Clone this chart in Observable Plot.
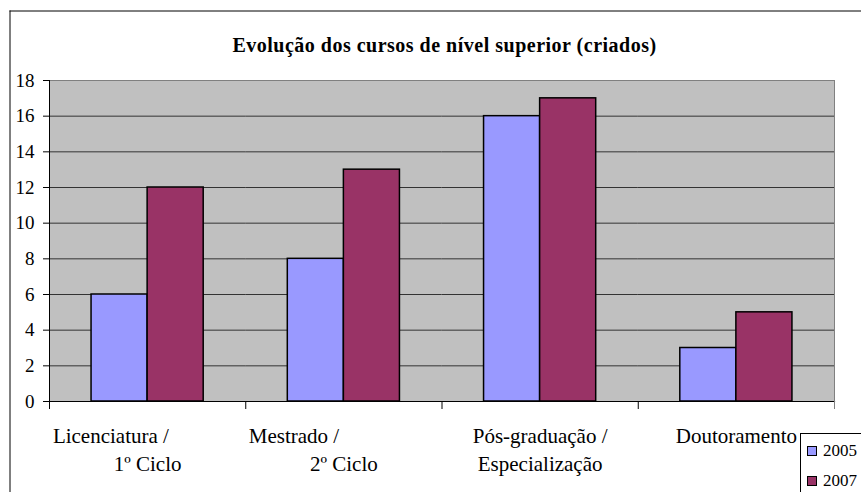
<!DOCTYPE html>
<html>
<head>
<meta charset="utf-8">
<script src="https://cdn.jsdelivr.net/npm/d3@7"></script>
<script src="https://cdn.jsdelivr.net/npm/@observablehq/plot@0.6"></script>
<style>
  html, body { margin: 0; padding: 0; background: #fff; overflow: hidden; width: 861px; height: 492px; }
  #wrap { position: relative; width: 861px; height: 492px; overflow: hidden; }
  #chart { position: absolute; left: 0; top: 0; width: 861px; height: 492px; }
  #chart svg { max-width: none !important; display: block; }
  #chart svg, #chart svg text { font-family: "Liberation Serif", "Times New Roman", serif !important; }
  #legend { position: absolute; left: 800px; top: 433px; width: 61px; height: 59px; border-left: 1px solid #000; border-top: 1px solid #000; background: #fff; box-sizing: border-box; }
  .item { position: absolute; left: 6px; display: flex; align-items: center; font-family: "Liberation Serif", "Times New Roman", serif; font-size: 17px; line-height: 20px; height: 20px; color: #000; white-space: nowrap; }
  .sw { width: 8px; height: 8px; border: 1px solid #000; margin-right: 6px; }
</style>
</head>
<body>
<div id="wrap"><div id="chart"></div><div id="legend"></div></div>
<script>
const title = "Evolução dos cursos de nível superior (criados)";
const categories = ["Licenciatura / 1º Ciclo", "Mestrado / 2º Ciclo", "Pós-graduação / Especialização", "Doutoramento"];
const labelLine1 = ["Licenciatura /\u00a0\u00a0\u00a0\u00a0\u00a0\u00a0\u00a0\u00a0\u00a0\u00a0\u00a0\u00a0\u00a0\u00a0", "Mestrado /\u00a0\u00a0\u00a0\u00a0\u00a0\u00a0\u00a0\u00a0\u00a0\u00a0\u00a0\u00a0\u00a0\u00a0\u00a0\u00a0\u00a0\u00a0\u00a0", "Pós-graduação /", "Doutoramento"];
const labelLine2 = ["1º Ciclo", "2º Ciclo", "Especialização", ""];
const years = ["2005", "2007"];
const values2005 = [6, 8, 16, 3];
const values2007 = [12, 13, 17, 5];
const yTicks = [0, 2, 4, 6, 8, 10, 12, 14, 16, 18];
const colors = ["#9999FF", "#993366"];

const rows = [];
categories.forEach((c, i) => {
  rows.push({category: c, year: years[0], value: values2005[i]});
  rows.push({category: c, year: years[1], value: values2007[i]});
});
const labels = categories.map((c, i) => ({category: c, line1: labelLine1[i], line2: labelLine2[i]}));

const W = 861, H = 492, mL = 49, mR = 27, mT = 80, mB = 91;
const plotH = H - mT - mB;
const font = "Liberation Serif";

const chart = Plot.plot({
  width: W, height: H,
  marginLeft: mL, marginRight: mR, marginTop: mT, marginBottom: mB,
  style: {fontFamily: font, color: "#000", background: "#fff", overflow: "hidden"},
  fx: {domain: categories, padding: 0, axis: null, round: false},
  x: {domain: years, paddingInner: 0, paddingOuter: 0.75, axis: null, round: false},
  y: {domain: [0, 18], axis: null},
  color: {domain: years, range: colors},
  marks: [
    // outer chart-area border: only its left and top sides are inside the picture
    Plot.frame({anchor: "left", stroke: "#000", strokeWidth: 1, facet: "super", insetLeft: -39.5, insetTop: -69.5, insetBottom: -200}),
    Plot.frame({anchor: "top", stroke: "#000", strokeWidth: 1, facet: "super", insetLeft: -39.5, insetTop: -69.5, insetRight: -200}),
    Plot.frame({fill: "#C0C0C0", facet: "super"}),
    Plot.gridY(yTicks.filter(t => t > 0 && t < 18), {stroke: "#333", strokeOpacity: 1, strokeWidth: 1}),
    Plot.barY(rows, {fx: "category", x: "year", y: "value", fill: "year", stroke: "#000", strokeWidth: 1.5}),
    Plot.frame({stroke: "#808080", strokeWidth: 1, facet: "super"}),
    Plot.frame({anchor: "left", stroke: "#000", strokeWidth: 1, facet: "super"}),
    Plot.frame({anchor: "bottom", stroke: "#000", strokeWidth: 1.2, facet: "super"}),
    Plot.frame({anchor: "left", stroke: "#000", insetTop: plotH, insetBottom: -7}),
    Plot.frame({anchor: "right", stroke: "#808080", insetTop: plotH, insetBottom: -7, facet: "super"}),
    Plot.axisY({ticks: yTicks, tickSize: 6, tickPadding: 9, fontSize: 19, fontFamily: font, label: null, tickFormat: d => String(d)}),
    Plot.text(labels, {fx: "category", text: "line1", frameAnchor: "bottom", dy: 41, fontSize: 21, fontFamily: font, fill: "#000"}),
    Plot.text(labels, {fx: "category", text: "line2", frameAnchor: "bottom", dy: 69, fontSize: 21, fontFamily: font, fill: "#000"}),
    Plot.text([title], {facet: "super", frameAnchor: "top", dy: -43, dx: 2.5, fontSize: 20, fontFamily: font, fontWeight: "bold", fill: "#000"})
  ]
});
chart.querySelectorAll("text").forEach(t => { if (t.textContent === title) t.style.letterSpacing = "0.5px"; });
document.getElementById("chart").appendChild(chart);

const legend = document.getElementById("legend");
years.forEach((y, i) => {
  const it = document.createElement("div");
  it.className = "item";
  it.style.top = (7 + i * 30) + "px";
  const sw = document.createElement("div");
  sw.className = "sw";
  sw.style.background = colors[i];
  it.appendChild(sw);
  it.appendChild(document.createTextNode(y));
  legend.appendChild(it);
});
</script>
</body>
</html>
